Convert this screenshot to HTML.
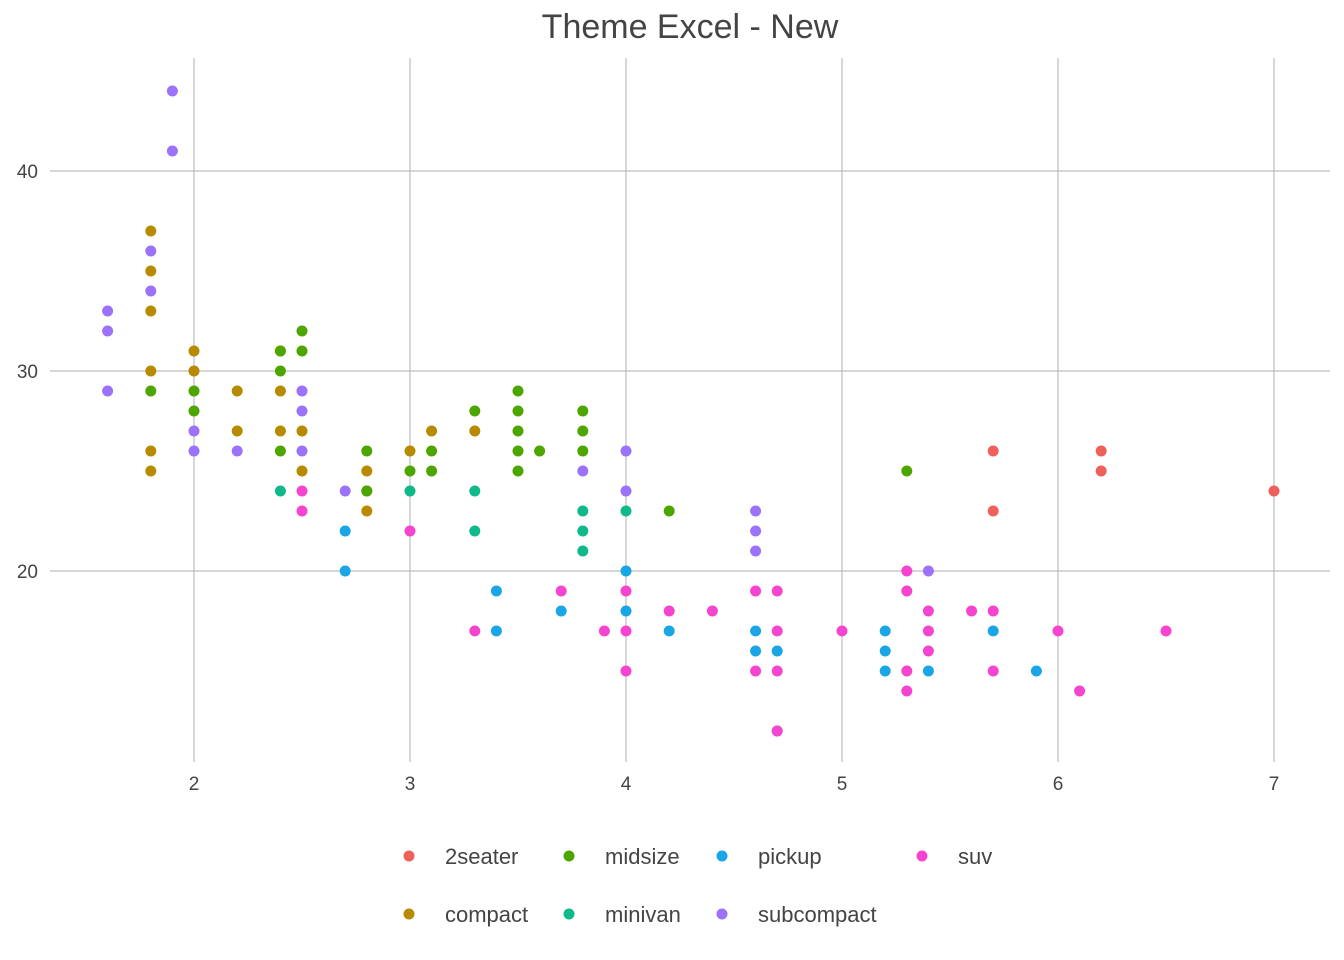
<!DOCTYPE html>
<html><head><meta charset="utf-8"><style>
body{margin:0;background:#fff;}
svg{display:block;font-family:"Liberation Sans",sans-serif;}
</style></head><body>
<svg id="chart" width="1344" height="960">
<text x="690" y="38" text-anchor="middle" font-size="34" fill="#444">Theme Excel - New</text>
<g id="grid"></g><g id="pts"></g><g id="legend"></g>
</svg>
<script>
const classes=["2seater","compact","midsize","minivan","pickup","subcompact","suv"];
const colors=["#F0605A","#B88A00","#4DA600","#10B98A","#1AA6E6","#9B72F9","#F545D0"];
const displ2seater=[5.7,5.7,6.2,6.2,7];
const hwy2seater=[26,23,26,25,24];
const displCompact=[1.8,1.8,1.8,1.8,1.8,1.8,2,2,2.2,2.2,2.4,2.4,2.4,2.5,2.5,2.8,2.8,2.8,3,3.1,3.3];
const hwyCompact=[37,35,33,30,26,25,31,30,29,27,31,29,27,27,25,25,24,23,26,27,27];
const displMidsize=[1.8,2,2,2.4,2.4,2.4,2.5,2.5,2.8,2.8,3,3.1,3.1,3.3,3.5,3.5,3.5,3.5,3.5,3.6,3.8,3.8,3.8,4.2,5.3];
const hwyMidsize=[29,29,28,30,31,26,32,31,26,24,25,26,25,28,29,28,27,26,25,26,28,27,26,23,25];
const displMinivan=[2.4,3,3.3,3.3,3.8,3.8,3.8,4];
const hwyMinivan=[24,24,24,22,23,22,21,23];
const displPickup=[2.7,2.7,3.4,3.4,3.7,4,4,4.2,4.6,4.6,4.7,4.7,5.2,5.2,5.2,5.4,5.7,5.9];
const hwyPickup=[22,20,19,17,18,20,18,17,17,16,16,12,17,16,15,15,17,15];
const displSubcompact=[1.6,1.6,1.6,1.8,1.8,1.9,1.9,2,2,2.2,2.5,2.5,2.5,2.7,3.8,4,4,4.6,4.6,4.6,5.4];
const hwySubcompact=[33,32,29,36,34,44,41,27,26,26,29,28,26,24,25,26,24,23,22,21,20];
const displSuv=[2.5,2.5,3,3.3,3.7,3.9,4,4,4,4.2,4.4,4.6,4.6,4.7,4.7,4.7,4.7,5,5.3,5.3,5.3,5.3,5.4,5.4,5.4,5.6,5.7,5.7,6,6.1,6.5];
const hwySuv=[24,23,22,17,19,17,19,17,15,18,18,19,15,19,17,15,12,17,20,19,15,14,18,17,16,18,18,15,17,14,17];
const xTicks=[2,3,4,5,6,7];
const yTicks=[20,30,40];
const legendOrder=["2seater","midsize","pickup","suv","compact","minivan","subcompact"];
const X=v=>194+(v-2)*216, Y=v=>571-(v-20)*20;
const NS="http://www.w3.org/2000/svg";
function mk(t,a,p){const e=document.createElementNS(NS,t);for(const k in a)e.setAttribute(k,a[k]);p.appendChild(e);return e;}
const g=document.getElementById('grid');
xTicks.forEach(t=>{
 const l=mk('line',{x1:X(t),x2:X(t),y1:58,y2:762,stroke:'#bdbdbd','stroke-width':1.2},g);
 
 
 const s=mk('text',{x:X(t),y:790,'text-anchor':'middle','font-size':19,fill:'#444'},g);s.textContent=t;
 
 
});
yTicks.forEach(t=>{
 const l=mk('line',{x1:50,x2:1330,y1:Y(t),y2:Y(t),stroke:'#bdbdbd','stroke-width':1.2},g);
 
 
 const s=mk('text',{x:38,y:Y(t)+7,'text-anchor':'end','font-size':19,fill:'#444'},g);s.textContent=t;
 
 
});
const series=[[displ2seater,hwy2seater],[displCompact,hwyCompact],[displMidsize,hwyMidsize],[displMinivan,hwyMinivan],[displPickup,hwyPickup],[displSubcompact,hwySubcompact],[displSuv,hwySuv]];
const pg=document.getElementById('pts');
series.forEach((s,i)=>{s[0].forEach((d,j)=>{
 const c=mk('circle',{cx:X(d),cy:Y(s[1][j]),r:5.5,fill:colors[i]},pg);
 
 
});});
const lg=document.getElementById('legend');
const colX=[409,569,722,922];
legendOrder.forEach((n,k)=>{
 const i=classes.indexOf(n), cx=colX[k%4], cy=k<4?856:914;
 const c=mk('circle',{cx:cx,cy:cy,r:5.5,fill:colors[i]},lg);
 
 
 const t=mk('text',{x:cx+36,y:cy+8,'font-size':22,fill:'#444'},lg);t.textContent=n;
 
 
});
</script>
</body></html>
